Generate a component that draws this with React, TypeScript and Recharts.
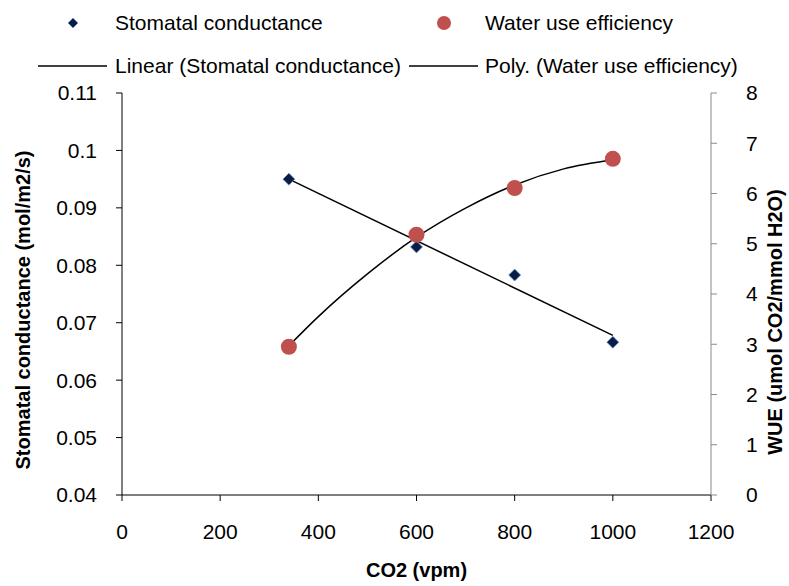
import { ComposedChart, Scatter, Line, XAxis, YAxis, Legend, Label } from "recharts";

// measured points
const co2 = [340, 600, 800, 1000];
const conductance = [0.095, 0.0832, 0.0783, 0.0666];
const wue = [2.95, 5.18, 6.11, 6.69];

// trend lines
const linearCo2 = [340, 1000];
const linearConductance = [0.095, 0.0678];
const polyCo2 = [340, 400, 500, 600, 700, 800, 900, 1000];
const polyWue = [2.97, 3.55, 4.4, 5.13, 5.71, 6.17, 6.49, 6.67];

const xTicks = [0, 200, 400, 600, 800, 1000, 1200];
const leftTicks = [0.04, 0.05, 0.06, 0.07, 0.08, 0.09, 0.1, 0.11];
const rightTicks = [0, 1, 2, 3, 4, 5, 6, 7, 8];

const FONT = "'Liberation Sans', Arial, sans-serif";
const RED = "#c0504d";
const NAVY = "#0b1d45";

const scData = co2.map((x, i) => ({ x, y: conductance[i] }));
const wueData = co2.map((x, i) => ({ x, y: wue[i] }));
const linearData = linearCo2.map((x, i) => ({ x, y: linearConductance[i] }));
const polyData = polyCo2.map((x, i) => ({ x, y: polyWue[i] }));

const Diamond = ({ cx, cy, s = 6 }: any) => (
  <polygon
    points={`${cx},${cy - s} ${cx + s},${cy} ${cx},${cy + s} ${cx - s},${cy}`}
    fill={NAVY}
    stroke="#6f9bd6"
    strokeWidth={0.8}
  />
);

const Dot = ({ cx, cy }: any) => <circle cx={cx} cy={cy} r={8} fill={RED} />;

function ChartLegend() {
  const txt = { fontSize: 21, fontFamily: FONT, fill: "#000" };
  return (
    <svg width={789} height={90}>
      <Diamond cx={73} cy={23} s={5} />
      <text x={115} y={30} {...txt}>Stomatal conductance</text>
      <circle cx={444} cy={23} r={7} fill={RED} />
      <text x={485} y={30} {...txt}>Water use efficiency</text>
      <line x1={38} x2={107} y1={66} y2={66} stroke="#000" strokeWidth={1.3} />
      <text x={115} y={73} {...txt}>Linear (Stomatal conductance)</text>
      <line x1={409} x2={478} y1={66} y2={66} stroke="#000" strokeWidth={1.3} />
      <text x={485} y={73} {...txt}>Poly. (Water use efficiency)</text>
    </svg>
  );
}

const tick = { fontSize: 21, fill: "#000", fontFamily: FONT };
const titleStyle = { fontSize: 20, fontWeight: "bold" as const, fontFamily: FONT, fill: "#000" };

// axis titles, placed relative to the axis box recharts hands over
const LeftTitle = ({ viewBox }: any) => (
  <text
    transform={`translate(${viewBox.x + 23}, ${viewBox.y + viewBox.height / 2 + 16}) rotate(-90)`}
    textAnchor="middle"
    dominantBaseline="central"
    {...titleStyle}
  >
    Stomatal conductance (mol/m2/s)
  </text>
);

const RightTitle = ({ viewBox }: any) => (
  <text
    transform={`translate(${viewBox.x + 64}, ${viewBox.y + viewBox.height / 2 + 28}) rotate(-90)`}
    textAnchor="middle"
    dominantBaseline="central"
    {...titleStyle}
  >
    WUE (umol CO2/mmol H2O)
  </text>
);

const BottomTitle = ({ viewBox }: any) => (
  <text
    x={viewBox.x + viewBox.width / 2}
    y={viewBox.y + 75}
    textAnchor="middle"
    dominantBaseline="central"
    {...titleStyle}
  >
    CO2 (vpm)
  </text>
);

export default function App() {
  return (
    <div style={{ position: "absolute", left: 0, top: 0, width: 789, height: 586, background: "#fff" }}>
      <ComposedChart
        width={789}
        height={586}
        margin={{ top: 93, right: 0, bottom: 0, left: 0 }}
      >
        <XAxis
          type="number"
          dataKey="x"
          domain={[0, 1200]}
          ticks={xTicks}
          height={91}
          tick={tick}
          tickSize={6}
          tickMargin={23}
          stroke="#000"
          allowDataOverflow
        >
          <Label content={BottomTitle} />
        </XAxis>
        <YAxis
          yAxisId="left"
          type="number"
          domain={[0.04, 0.11]}
          ticks={leftTicks}
          width={122}
          tick={tick}
          tickSize={6}
          tickMargin={19}
          stroke="#000"
          allowDataOverflow
        >
          <Label content={LeftTitle} />
        </YAxis>
        <YAxis
          yAxisId="right"
          orientation="right"
          type="number"
          domain={[0, 8]}
          ticks={rightTicks}
          width={78}
          tick={tick}
          tickSize={6}
          tickMargin={29}
          stroke="#8a8a8a"
          allowDataOverflow
        >
          <Label content={RightTitle} />
        </YAxis>
        <Legend
          layout="horizontal"
          verticalAlign="middle"
          align="center"
          wrapperStyle={{ top: 0, left: 0, width: 789 }}
          content={() => <ChartLegend />}
        />
        <Scatter
          yAxisId="left"
          data={scData}
          dataKey="y"
          name="Stomatal conductance"
          shape={(p: any) => <Diamond cx={p.cx} cy={p.cy} s={6} />}
          isAnimationActive={false}
        />
        <Scatter
          yAxisId="right"
          data={wueData}
          dataKey="y"
          name="Water use efficiency"
          shape={(p: any) => <Dot cx={p.cx} cy={p.cy} />}
          isAnimationActive={false}
        />
        <Line
          yAxisId="left"
          data={linearData}
          dataKey="y"
          type="linear"
          stroke="#000"
          strokeWidth={1.5}
          dot={false}
          activeDot={false}
          isAnimationActive={false}
        />
        <Line
          yAxisId="right"
          data={polyData}
          dataKey="y"
          type="monotone"
          stroke="#000"
          strokeWidth={1.5}
          dot={false}
          activeDot={false}
          isAnimationActive={false}
        />
      </ComposedChart>
    </div>
  );
}
